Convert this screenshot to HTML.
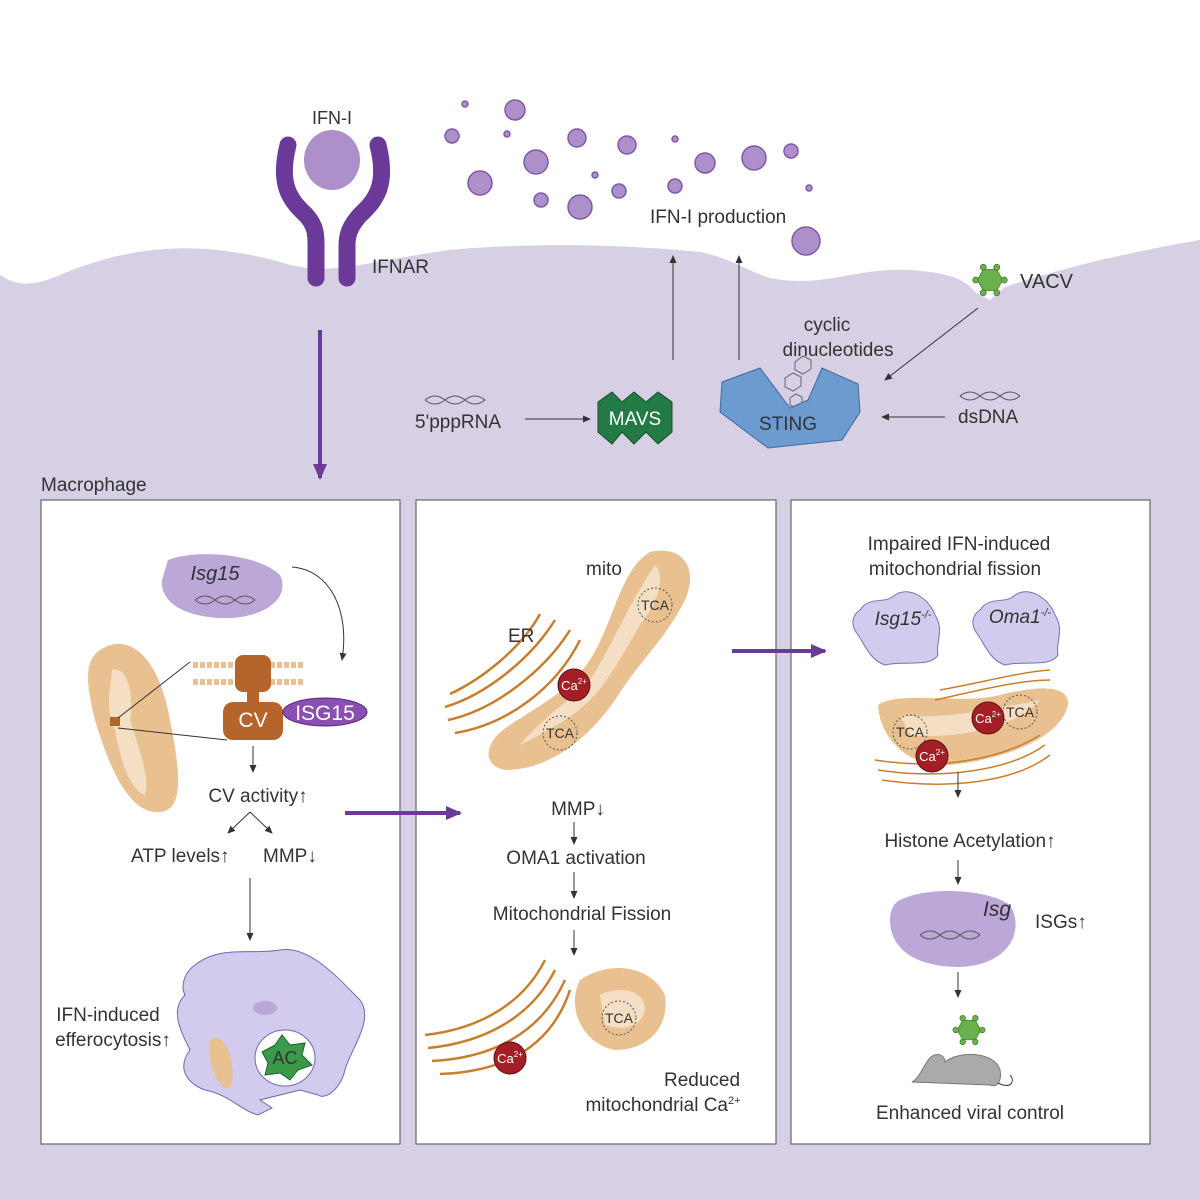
<!DOCTYPE html>
<html><head><meta charset="utf-8"><style>html,body{margin:0;padding:0;background:#fff}svg{display:block}text{font-family:"Liberation Sans",sans-serif;fill:#333}</style></head>
<body>
<svg width="1200" height="1200" viewBox="0 0 1200 1200" xmlns="http://www.w3.org/2000/svg">
<defs>
<marker id="a" markerWidth="8" markerHeight="8" refX="7" refY="4" orient="auto" markerUnits="userSpaceOnUse"><path d="M0,0.5 L8,4 L0,7.5 Z" fill="#333"/></marker>
<marker id="p" markerWidth="16" markerHeight="16" refX="14" refY="8" orient="auto" markerUnits="userSpaceOnUse"><path d="M0,1 L16,8 L0,15 Z" fill="#6a3a98"/></marker>
<g id="ca"><circle r="16" fill="#a31f25" stroke="#5a1010"/><text x="0" y="5" font-size="13" text-anchor="middle" style="fill:#fff">Ca<tspan font-size="8" dy="-6">2+</tspan></text></g>
<g id="tca"><circle r="17" fill="none" stroke="#555" stroke-dasharray="2 2"/><text y="5" font-size="14" text-anchor="middle">TCA</text></g>
<g id="vir"><polygon points="-9,-14 9,-14 17,0 9,14 -9,14 -17,0" fill="#6ab04c" stroke="#3f7a2a"/><g fill="#6ab04c" stroke="#3f7a2a"><circle cx="-9" cy="-17" r="4"/><circle cx="9" cy="-17" r="4"/><circle cx="-9" cy="17" r="4"/><circle cx="9" cy="17" r="4"/><circle cx="-19" cy="0" r="4"/><circle cx="19" cy="0" r="4"/></g></g>
</defs>
<path d="M0,275 C15,285 30,288 60,275 C130,245 200,240 280,262 C330,278 360,262 450,250 C560,240 660,248 700,252 C730,258 745,270 770,278 C830,290 860,262 930,272 C960,276 970,285 975,292 L990,300 L1005,287 C1060,268 1140,250 1200,240 L1200,1200 L0,1200 Z" fill="#d7cfe4"/>
<rect x="41" y="500" width="359" height="644" fill="#fff" stroke="#666" stroke-width="1.2"/>
<rect x="416" y="500" width="360" height="644" fill="#fff" stroke="#666" stroke-width="1.2"/>
<rect x="791" y="500" width="359" height="644" fill="#fff" stroke="#666" stroke-width="1.2"/>
<g fill="#ad8fc9" stroke="#7d5ba6" stroke-width="1.5">
<circle cx="465" cy="104" r="3"/><circle cx="515" cy="110" r="10"/><circle cx="452" cy="136" r="7"/><circle cx="507" cy="134" r="3"/><circle cx="577" cy="138" r="9"/><circle cx="627" cy="145" r="9"/><circle cx="675" cy="139" r="3"/><circle cx="536" cy="162" r="12"/><circle cx="480" cy="183" r="12"/><circle cx="595" cy="175" r="3"/><circle cx="705" cy="163" r="10"/><circle cx="754" cy="158" r="12"/><circle cx="791" cy="151" r="7"/><circle cx="541" cy="200" r="7"/><circle cx="580" cy="207" r="12"/><circle cx="619" cy="191" r="7"/><circle cx="675" cy="186" r="7"/><circle cx="809" cy="188" r="3"/><circle cx="806" cy="241" r="14"/>
</g>
<g fill="none" stroke="#6b3a99" stroke-width="17" stroke-linecap="round">
<path d="M288,145 C278,185 290,200 306,215 C316,226 316,235 316,245 L316,278"/>
<path d="M378,145 C388,185 376,200 360,215 C350,226 347,235 347,245 L347,278"/>
</g>
<ellipse cx="332" cy="160" rx="28" ry="30" fill="#ad8fc9"/>
<text x="332" y="124" font-size="18" text-anchor="middle">IFN-I</text>
<text x="372" y="273" font-size="19">IFNAR</text>
<line x1="320" y1="330" x2="320" y2="478" stroke="#6a3a98" stroke-width="4" marker-end="url(#p)"/>
<text x="650" y="223" font-size="19">IFN-I production</text>
<line x1="673" y1="360" x2="673" y2="256" stroke="#333" marker-end="url(#a)"/>
<line x1="739" y1="360" x2="739" y2="256" stroke="#333" marker-end="url(#a)"/>
<use href="#vir" transform="translate(990,280) scale(0.75)"/>
<text x="1020" y="288" font-size="20">VACV</text>
<line x1="978" y1="308" x2="885" y2="380" stroke="#333" marker-end="url(#a)"/>
<text x="827" y="331" font-size="19" text-anchor="middle">cyclic</text>
<text x="838" y="356" font-size="19" text-anchor="middle">dinucleotides</text>
<g stroke="#666" fill="none"><path d="M795,362 l8,-6 8,4 0,9 -8,5 -8,-4z M785,378 l8,-5 8,4 0,9 -8,5 -8,-4z M790,398 l6,-4 6,3 0,7 -6,4 -6,-3z"/></g>
<polygon points="598,402 612,392 622,402 634,392 646,402 658,392 672,402 672,432 658,444 646,432 634,444 622,432 612,444 598,432" fill="#237a45" stroke="#134d2a"/>
<text x="635" y="425" font-size="19" text-anchor="middle" style="fill:#fff">MAVS</text>
<path d="M722,382 L760,368 L790,408 L808,400 L822,368 L858,384 L860,412 L842,440 L768,448 L720,412 Z" fill="#6c9bcf" stroke="#3e6a9e"/>
<text x="788" y="430" font-size="19" text-anchor="middle">STING</text>
<text x="415" y="428" font-size="19">5'pppRNA</text>
<path d="M425,400 q10,-8 20,0 t20,0 t20,0 M425,400 q10,8 20,0 t20,0 t20,0" stroke="#555" fill="none"/>
<line x1="525" y1="419" x2="590" y2="419" stroke="#333" marker-end="url(#a)"/>
<text x="958" y="423" font-size="19">dsDNA</text>
<path d="M960,396 q10,-8 20,0 t20,0 t20,0 M960,396 q10,8 20,0 t20,0 t20,0" stroke="#555" fill="none"/>
<line x1="945" y1="417" x2="882" y2="417" stroke="#333" marker-end="url(#a)"/>
<text x="41" y="491" font-size="19">Macrophage</text>
<!-- Panel 1 -->
<path d="M168,560 C200,548 260,555 280,575 C292,600 260,620 220,618 C180,616 160,600 162,580 Z" fill="#bba7d8"/>
<text x="215" y="580" font-size="20" font-style="italic" text-anchor="middle">Isg15</text>
<path d="M195,600 q10,-8 20,0 t20,0 t20,0 M195,600 q10,8 20,0 t20,0 t20,0" stroke="#555" fill="none"/>
<path d="M292,567 C330,570 350,610 342,660" stroke="#333" fill="none" marker-end="url(#a)"/>
<path d="M100,650 C130,630 160,660 170,720 C180,770 185,810 160,812 C130,815 110,770 95,720 C85,680 85,660 100,650 Z" fill="#e9c08f"/>
<path d="M112,670 C125,665 135,690 130,720 C140,750 150,780 145,795 C130,790 120,760 115,730 C105,710 110,690 112,670Z" fill="#f4dfc4"/>
<rect x="110" y="717" width="10" height="9" fill="#b5652b"/>
<line x1="118" y1="718" x2="190" y2="662" stroke="#333"/><line x1="118" y1="728" x2="227" y2="740" stroke="#333"/>
<g stroke="#e9c08f" stroke-width="6" stroke-dasharray="5 2"><line x1="193" y1="665" x2="305" y2="665"/><line x1="193" y1="682" x2="305" y2="682"/></g>
<rect x="235" y="655" width="36" height="37" rx="8" fill="#b5652b"/>
<rect x="247" y="690" width="12" height="14" fill="#b5652b"/>
<rect x="223" y="702" width="60" height="38" rx="10" fill="#b5652b"/>
<text x="253" y="727" font-size="21" text-anchor="middle" style="fill:#fff">CV</text>
<ellipse cx="325" cy="712" rx="42" ry="14" fill="#8a4fb0" stroke="#5a2c80"/>
<text x="325" y="720" font-size="21" text-anchor="middle" style="fill:#fff">ISG15</text>
<line x1="253" y1="746" x2="253" y2="772" stroke="#333" marker-end="url(#a)"/>
<text x="258" y="802" font-size="19" text-anchor="middle">CV activity↑</text>
<line x1="250" y1="812" x2="228" y2="833" stroke="#333" marker-end="url(#a)"/><line x1="250" y1="812" x2="272" y2="833" stroke="#333" marker-end="url(#a)"/>
<text x="131" y="862" font-size="19">ATP levels↑</text><text x="263" y="862" font-size="19">MMP↓</text>
<line x1="250" y1="878" x2="250" y2="940" stroke="#333" marker-end="url(#a)"/>
<path d="M195,965 C220,945 250,955 280,950 C310,945 340,980 360,1000 C375,1020 350,1050 345,1070 C340,1090 325,1100 318,1095 L300,1090 L260,1100 L272,1108 L258,1115 C240,1110 230,1095 205,1090 C190,1085 175,1070 190,1050 C180,1030 170,1010 185,995 C180,985 185,972 195,965 Z" fill="#d2cbee" stroke="#6a6ab0" stroke-width="1"/>
<ellipse cx="265" cy="1008" rx="12" ry="7" fill="#bba7d8"/>
<path d="M210,1040 C225,1030 235,1060 232,1085 C225,1095 215,1080 210,1060Z" fill="#e9c08f"/>
<ellipse cx="285" cy="1058" rx="30" ry="28" fill="#fff" stroke="#6a6ab0"/>
<polygon points="262,1052 275,1045 282,1035 290,1045 305,1043 302,1055 312,1065 298,1070 290,1080 280,1073 265,1075 268,1063" fill="#3a9a4a" stroke="#245f2e"/>
<text x="285" y="1064" font-size="18" text-anchor="middle">AC</text>
<text x="108" y="1021" font-size="19" text-anchor="middle">IFN-induced</text>
<text x="113" y="1046" font-size="19" text-anchor="middle">efferocytosis↑</text>
<line x1="345" y1="813" x2="460" y2="813" stroke="#6a3a98" stroke-width="4" marker-end="url(#p)"/>
<!-- Panel 2 -->
<path d="M650,552 C680,545 700,565 685,600 C665,640 640,660 615,700 C580,750 540,770 505,770 C480,765 485,740 510,725 C540,705 570,690 590,660 C615,620 620,570 650,552 Z" fill="#e9c08f"/>
<path d="M655,565 C665,575 660,600 640,625 C625,650 610,680 590,700 C570,720 540,735 520,745 C540,720 570,700 590,680 C610,650 625,610 655,565Z" fill="#f4dfc4"/>
<g stroke="#c77f2e" stroke-width="2.5" fill="none">
<path d="M450,694 C480,680 520,650 540,614"/><path d="M445,707 C485,695 530,660 555,620"/><path d="M448,720 C495,710 545,670 570,630"/><path d="M455,733 C505,725 555,690 580,640"/>
</g>
<use href="#ca" x="574" y="685"/>
<use href="#tca" x="655" y="605"/><use href="#tca" x="560" y="733"/>
<text x="586" y="575" font-size="19">mito</text><text x="508" y="642" font-size="19">ER</text>
<text x="578" y="815" font-size="19" text-anchor="middle">MMP↓</text>
<line x1="574" y1="822" x2="574" y2="844" stroke="#333" marker-end="url(#a)"/>
<text x="576" y="864" font-size="19" text-anchor="middle">OMA1 activation</text>
<line x1="574" y1="872" x2="574" y2="898" stroke="#333" marker-end="url(#a)"/>
<text x="582" y="920" font-size="19" text-anchor="middle">Mitochondrial Fission</text>
<line x1="574" y1="930" x2="574" y2="955" stroke="#333" marker-end="url(#a)"/>
<g stroke="#c77f2e" stroke-width="2.5" fill="none">
<path d="M425,1035 C470,1030 520,1010 545,960"/><path d="M428,1048 C480,1043 530,1020 555,970"/><path d="M432,1061 C490,1058 540,1035 565,980"/><path d="M440,1074 C500,1072 550,1050 570,990"/>
</g>
<use href="#ca" x="510" y="1058"/>
<path d="M580,980 C610,960 650,965 665,995 C670,1030 645,1050 615,1050 C585,1045 565,1010 580,980Z" fill="#e9c08f"/>
<path d="M600,995 C620,985 645,990 645,1010 C640,1030 620,1030 605,1025Z" fill="#f4dfc4"/>
<use href="#tca" x="619" y="1018"/>
<text x="702" y="1086" font-size="19" text-anchor="middle">Reduced</text>
<text x="663" y="1111" font-size="19" text-anchor="middle">mitochondrial Ca<tspan font-size="11" dy="-7">2+</tspan></text>
<line x1="732" y1="651" x2="825" y2="651" stroke="#6a3a98" stroke-width="4" marker-end="url(#p)"/>
<!-- Panel 3 -->
<text x="959" y="550" font-size="19" text-anchor="middle">Impaired IFN-induced</text>
<text x="955" y="575" font-size="19" text-anchor="middle">mitochondrial fission</text>
<path d="M860,610 C870,595 885,605 895,595 C910,585 930,600 935,615 C945,630 935,645 938,655 C930,668 905,660 885,665 C870,660 865,645 858,635 C850,625 852,615 860,610Z" fill="#d2cbee" stroke="#7a70b0"/>
<text x="903" y="625" font-size="19" font-style="italic" text-anchor="middle">Isg15<tspan font-size="11" dy="-7">-/-</tspan></text>
<path d="M980,610 C990,595 1005,605 1015,595 C1030,585 1050,600 1055,615 C1065,630 1055,645 1058,655 C1050,668 1025,660 1005,665 C990,660 985,645 978,635 C970,625 972,615 980,610Z" fill="#d2cbee" stroke="#7a70b0"/>
<text x="1020" y="623" font-size="19" font-style="italic" text-anchor="middle">Oma1<tspan font-size="11" dy="-7">-/-</tspan></text>
<path d="M878,705 C900,690 960,705 1000,695 C1040,685 1070,685 1068,705 C1060,740 1000,760 950,765 C910,768 880,740 878,705Z" fill="#e9c08f"/>
<path d="M900,715 C940,720 990,710 1040,700 C1020,725 960,740 910,735Z" fill="#f4dfc4"/>
<g stroke="#c77f2e" stroke-width="1.5" fill="none">
<path d="M875,760 C940,770 1000,760 1040,735"/><path d="M878,770 C945,780 1010,770 1045,745"/><path d="M882,780 C950,790 1015,782 1050,755"/>
<path d="M935,700 C980,690 1020,680 1050,680"/><path d="M940,690 C985,682 1020,672 1050,670"/>
</g>
<use href="#tca" x="1020" y="712"/><use href="#tca" x="910" y="732"/>
<use href="#ca" x="988" y="718"/><use href="#ca" x="932" y="756"/>
<line x1="958" y1="772" x2="958" y2="797" stroke="#333" marker-end="url(#a)"/>
<text x="970" y="847" font-size="19" text-anchor="middle">Histone Acetylation↑</text>
<line x1="958" y1="860" x2="958" y2="884" stroke="#333" marker-end="url(#a)"/>
<path d="M900,900 C930,885 990,890 1010,905 C1025,930 1010,965 960,967 C910,967 890,945 890,920 C890,910 894,903 900,900Z" fill="#bba7d8"/>
<text x="997" y="916" font-size="21" font-style="italic" text-anchor="middle">Isg</text>
<path d="M920,935 q10,-8 20,0 t20,0 t20,0 M920,935 q10,8 20,0 t20,0 t20,0" stroke="#555" fill="none"/>
<text x="1035" y="928" font-size="19">ISGs↑</text>
<line x1="958" y1="972" x2="958" y2="997" stroke="#333" marker-end="url(#a)"/>
<use href="#vir" transform="translate(969,1030) scale(0.7)"/>
<path d="M912,1082 C920,1078 925,1062 930,1058 C935,1052 945,1054 945,1062 C960,1050 995,1052 1000,1070 C1002,1080 998,1088 990,1085 Z" fill="#aaa" stroke="#777"/>
<path d="M998,1083 C1012,1090 1015,1080 1010,1075" stroke="#444" fill="none"/>
<text x="970" y="1119" font-size="19" text-anchor="middle">Enhanced viral control</text>
</svg>
</body></html>
